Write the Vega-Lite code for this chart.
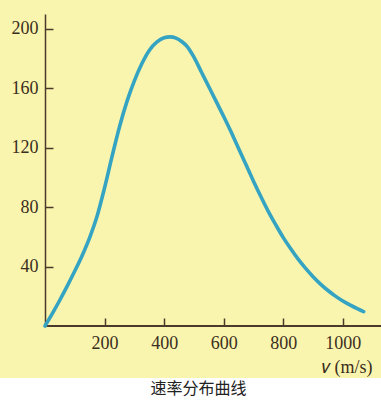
{
  "$schema": "https://vega.github.io/schema/vega-lite/v6.json",
  "background": "#faf5ae",
  "padding": {"top": 14, "left": 0, "right": 0, "bottom": 0},
  "spacing": 0,
  "config": {"view": {"stroke": null}, "concat": {"spacing": 0}},
  "vconcat": [
    {
      "width": 381,
      "height": 312,
      "data": {"values": [
        {"v": 0, "f": 0}, {"v": 25, "f": 8.5}, {"v": 50, "f": 17.5}, {"v": 75, "f": 27},
        {"v": 100, "f": 37}, {"v": 125, "f": 47.5}, {"v": 150, "f": 59.5}, {"v": 175, "f": 74},
        {"v": 200, "f": 93}, {"v": 225, "f": 114}, {"v": 250, "f": 134}, {"v": 275, "f": 151},
        {"v": 300, "f": 165}, {"v": 325, "f": 176.5}, {"v": 350, "f": 185.5}, {"v": 375, "f": 191},
        {"v": 400, "f": 194}, {"v": 420, "f": 194.6}, {"v": 440, "f": 193.8}, {"v": 460, "f": 191.3},
        {"v": 475, "f": 188.6}, {"v": 500, "f": 181}, {"v": 525, "f": 171}, {"v": 550, "f": 161},
        {"v": 575, "f": 151}, {"v": 600, "f": 141}, {"v": 625, "f": 130.5}, {"v": 650, "f": 119.5},
        {"v": 675, "f": 108.5}, {"v": 700, "f": 97.5}, {"v": 725, "f": 87}, {"v": 750, "f": 77},
        {"v": 775, "f": 68}, {"v": 800, "f": 59.5}, {"v": 825, "f": 52}, {"v": 850, "f": 45},
        {"v": 875, "f": 38.8}, {"v": 900, "f": 33.2}, {"v": 925, "f": 28.2}, {"v": 950, "f": 23.9},
        {"v": 975, "f": 20.1}, {"v": 1000, "f": 16.8}, {"v": 1025, "f": 14}, {"v": 1050, "f": 11.5},
        {"v": 1070, "f": 9.7}
      ]},
      "layer": [
        {
          "mark": {"type": "rule", "color": "#4b3a2a", "strokeWidth": 1.5},
          "encoding": {
            "x": {"datum": 0, "type": "quantitative"},
            "x2": {"datum": 1128},
            "y": {"datum": 0, "type": "quantitative"}
          }
        },
        {
          "mark": {"type": "line", "color": "#35a3c2", "strokeWidth": 3.6, "interpolate": "monotone", "strokeCap": "round"},
          "encoding": {
            "x": {
              "field": "v", "type": "quantitative",
              "scale": {"domain": [-151, 1128], "nice": false, "zero": false},
              "axis": {
                "values": [200, 400, 600, 800, 1000],
                "format": "d",
                "grid": false,
                "domain": false,
                "title": "𝑣 (m/s)",
                "titleFont": "Liberation Serif", "titleFontSize": 18, "titleFontWeight": "normal",
                "titleColor": "#3a2e20",
                "titleX": 372, "titleY": 46, "titleAlign": "right", "titleBaseline": "alphabetic",
                "labelFont": "Liberation Serif", "labelFontSize": 18, "labelColor": "#3a2e20",
                "labelPadding": 16,
                "tickSize": -8, "tickColor": "#4b3a2a", "tickWidth": 1.5,
                "minExtent": 52, "maxExtent": 52
              }
            },
            "y": {
              "field": "f", "type": "quantitative",
              "scale": {"domain": [0, 210], "nice": false},
              "axis": {
                "values": [40, 80, 120, 160, 200],
                "grid": false,
                "title": null,
                "offset": -45,
                "labelFont": "Liberation Serif", "labelFontSize": 18, "labelColor": "#3a2e20",
                "labelPadding": 15,
                "tickSize": -8, "tickColor": "#4b3a2a", "tickWidth": 1.5,
                "domainColor": "#4b3a2a", "domainWidth": 1.5,
                "minExtent": 0, "maxExtent": 0
              }
            }
          }
        }
      ]
    },
    {
      "width": 381,
      "height": 22,
      "view": {"fill": "white", "stroke": null},
      "data": {"values": [{"caption": "速率分布曲线"}]},
      "mark": {"type": "text", "font": "Noto Sans CJK SC", "fontSize": 16, "color": "#222222", "baseline": "middle", "align": "center", "dx": 8},
      "encoding": {"text": {"field": "caption"}}
    }
  ]
}
